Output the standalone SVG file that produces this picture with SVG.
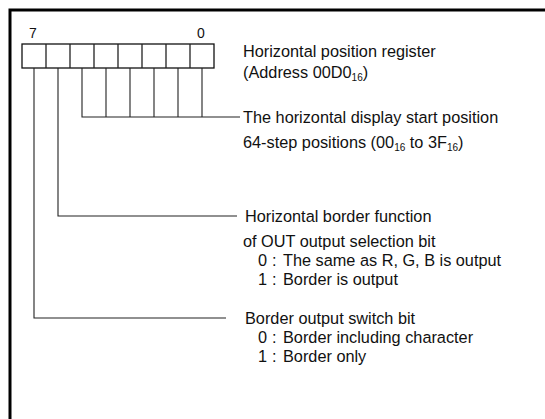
<svg xmlns="http://www.w3.org/2000/svg" width="545" height="419" viewBox="0 0 545 419">
<style>
.t{font-family:"Liberation Sans",Arial,sans-serif;font-size:16.3px;fill:#111}
.b{font-family:"Liberation Sans",Arial,sans-serif;font-size:14px;fill:#111}
.sub{font-size:10px}
.ln{fill:none;stroke:#222;stroke-width:1.1}
.frame{fill:none;stroke:#000;stroke-width:3}
.cell{fill:#fff;stroke:#111;stroke-width:1.3}
</style>
<rect width="545" height="419" fill="#fff"/>
<path class="frame" d="M10,419 V10 H545"/>
<g id="register">
  <rect class="cell" x="22" y="44" width="192" height="24"/>
  <path class="ln" d="M46,44V68M70,44V68M94,44V68M118,44V68M142,44V68M166,44V68M190,44V68" style="stroke-width:1.3"/>
  <text class="b" x="33" y="38" text-anchor="middle">7</text>
  <text class="b" x="201" y="38" text-anchor="middle">0</text>
</g>
<g id="connectors">
  <path class="ln" d="M82,68V117H240M106,68V117M130,68V117M154,68V117M178,68V117M202,68V117"/>
  <path class="ln" d="M58,68V216H237"/>
  <path class="ln" d="M34,68V318H226"/>
</g>
<g id="title">
  <text class="t" x="243" y="57">Horizontal position register</text>
  <text class="t" x="243" y="78">(Address 00D0<tspan class="sub" dy="3">16</tspan><tspan dy="-3">)</tspan></text>
</g>
<g id="start-position">
  <text class="t" x="243" y="123">The horizontal display start position</text>
  <text class="t" x="243" y="148">64-step positions (00<tspan class="sub" dy="3">16</tspan><tspan dy="-3"> to 3F</tspan><tspan class="sub" dy="3">16</tspan><tspan dy="-3">)</tspan></text>
</g>
<g id="border-function">
  <text class="t" x="245" y="222">Horizontal border function</text>
  <text class="t" x="243" y="247">of OUT output selection bit</text>
  <text class="t" y="266"><tspan x="258">0</tspan><tspan x="272">:</tspan><tspan x="283">The same as R, G, B is output</tspan></text>
  <text class="t" y="285"><tspan x="258">1</tspan><tspan x="272">:</tspan><tspan x="283">Border is output</tspan></text>
</g>
<g id="border-switch">
  <text class="t" x="245" y="324">Border output switch bit</text>
  <text class="t" y="343"><tspan x="258">0</tspan><tspan x="272">:</tspan><tspan x="283">Border including character</tspan></text>
  <text class="t" y="362"><tspan x="258">1</tspan><tspan x="272">:</tspan><tspan x="283">Border only</tspan></text>
</g>
</svg>
